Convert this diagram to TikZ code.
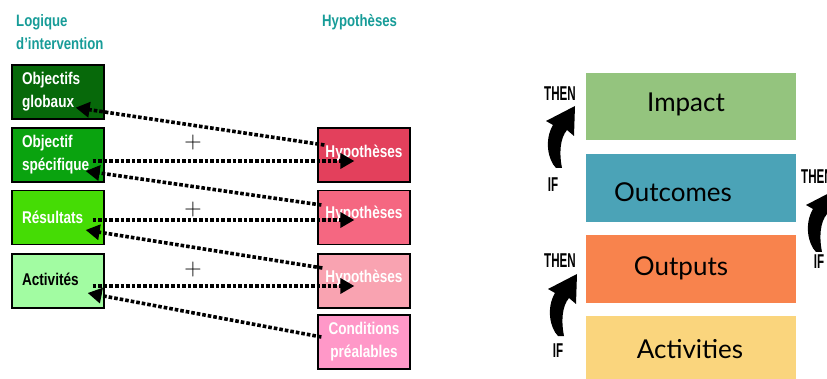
\documentclass[tikz,border=0pt]{standalone}
\usepackage{fontspec}
\usetikzlibrary{arrows.meta,calc}
\newfontfamily\narrowsans[FakeStretch=0.8]{Liberation Sans}
\newfontfamily\condsans[FakeStretch=0.58]{Liberation Sans}
\newfontfamily\casualsans{Lato}

\definecolor{headteal}{HTML}{179C98}
\definecolor{ogreen}{HTML}{07690A}
\definecolor{sgreen}{HTML}{0AA30F}
\definecolor{rgreen}{HTML}{45DC05}
\definecolor{agreen}{HTML}{A2FCA2}
\definecolor{hypA}{HTML}{E3405C}
\definecolor{hypB}{HTML}{F56781}
\definecolor{hypC}{HTML}{F9A3B1}
\definecolor{condpink}{HTML}{FF98C8}
\definecolor{impactc}{HTML}{94C47E}
\definecolor{outcomec}{HTML}{4BA3B7}
\definecolor{outputc}{HTML}{F8834D}
\definecolor{activc}{HTML}{FAD57D}

\tikzset{
  heading/.style={font=\narrowsans\bfseries\fontsize{16.5}{23}\selectfont, text=headteal, align=left, inner sep=0pt},
  lbox/.style={draw=black, line width=1.3pt, minimum width=92pt, minimum height=54pt,
    text width=72pt, inner xsep=10pt, inner ysep=0pt, align=left,
    font=\narrowsans\bfseries\fontsize{17}{23}\selectfont, text=white},
  rbox/.style={draw=black, line width=1.3pt, minimum width=92pt, minimum height=54pt,
    inner sep=0pt, align=center,
    font=\narrowsans\bfseries\fontsize{17}{23}\selectfont, text=white},
  plusmark/.style={font=\fontsize{24}{24}\selectfont, inner sep=0pt},
  dotarrow/.style={line width=3.6pt, dash pattern=on 3.6pt off 2pt,
    -{Triangle[length=14pt,width=15pt]}},
  layer/.style={minimum width=210pt, inner sep=0pt},
  layertext/.style={font=\casualsans\fontsize{26}{26}\selectfont, text=black, inner sep=0pt},
  ifthen/.style={font=\condsans\bfseries\fontsize{20}{20}\selectfont, text=black, inner sep=0pt},
  curvarrow/.pic={
    \fill[black] (-2,0) .. controls (-10,-8) and (-14,-28) .. (-5,-43)
      -- (-12,-47) -- (17,-62) -- (16,-32) -- (9,-38)
      .. controls (2,-30) and (1,-14) .. (4,0) -- cycle;
  }
}

\begin{document}
\begin{tikzpicture}[x=1pt,y=-1pt]
\useasboundingbox (0,0) rectangle (827,379);
\clip (0,0) rectangle (827,379);

% ---- logical framework: headings ----
\node[heading, anchor=north west] (hlog) at (16,14) {Logique\\d’intervention};
\node[heading, anchor=north west] (hhyp) at (322,14) {Hypothèses};

% ---- intervention logic column ----
\node[lbox, fill=ogreen]  (og)  at (58,92)    {Objectifs\\globaux};
\node[lbox, fill=sgreen]  (os)  at (58,155)   {Objectif\\spécifique};
\node[lbox, fill=rgreen]  (res) at (58,217.5) {Résultats};
\node[lbox, fill=agreen, text=black] (act) at (58,281) {\raisebox{3pt}{Activités}};

% ---- assumptions column ----
\node[rbox, fill=hypA]     (h1) at (364,155)   {\raisebox{8pt}{Hypothèses}};
\node[rbox, fill=hypB]     (h2) at (364,217.5) {\raisebox{10pt}{Hypothèses}};
\node[rbox, fill=hypC]     (h3) at (364,281)   {\raisebox{10pt}{Hypothèses}};
\node[rbox, fill=condpink] (cp) at (364,342)   {Conditions\\préalables};

% ---- plus signs ----
\node[plusmark] (p1) at (193,143) {+};
\node[plusmark] (p2) at (193,210) {+};
\node[plusmark] (p3) at (193,270) {+};

% ---- dotted links ----
\draw[dotarrow] ($(h1.west)+(7,-10)$)   -- ($(og.south east)+(-29,-12)$);
\draw[dotarrow] ($(os.east)+(-12,6)$)   -- ($(h1.west)+(37,6)$);
\draw[dotarrow] ($(h2.west)+(4,-12.5)$) -- ($(os.east)+(-19,16)$);
\draw[dotarrow] ($(res.east)+(-12,2.5)$) -- ($(h2.west)+(37,2.5)$);
\draw[dotarrow] ($(h3.west)+(5,-13)$)   -- ($(res.east)+(-19,12.5)$);
\draw[dotarrow] ($(act.east)+(-12,5)$)  -- ($(h3.west)+(37,5)$);
\draw[dotarrow] ($(cp.west)+(4,-5)$)    -- ($(act.east)+(-17,12)$);

% ---- results chain ----
\node[layer, fill=impactc,  minimum height=67pt] (imp)  at (691,106.5) {};
\node[layer, fill=outcomec, minimum height=68pt] (outc) at (691,188)   {};
\node[layer, fill=outputc,  minimum height=68pt] (outp) at (691,269)   {};
\node[layer, fill=activc,   minimum height=66pt] (actv) at (691,349)   {};

\node[layertext] (impt)  at (686,104) {Impact};
\node[layertext] (outct) at (673,192) {Outcomes};
\node[layertext] (outpt) at (681,268) {Outputs};
\node[layertext] (actvt) at (690,349) {Activities};

% ---- if / then arrows ----
\node[ifthen] (then1) at (560,94)  {THEN};
\node[ifthen] (if1)   at (553,185) {IF};
\pic at (558,168) {curvarrow};

\node[ifthen] (then2) at (560,261) {THEN};
\node[ifthen] (if2)   at (558,351) {IF};
\pic at (560,336) {curvarrow};

% this pair runs past the right edge of the page
\node[ifthen, anchor=west] (then3) at (801,177) {THEN};
\node[ifthen] (if3)   at (819,262) {IF};
\pic at (818,252) {curvarrow};
\end{tikzpicture}
\end{document}
